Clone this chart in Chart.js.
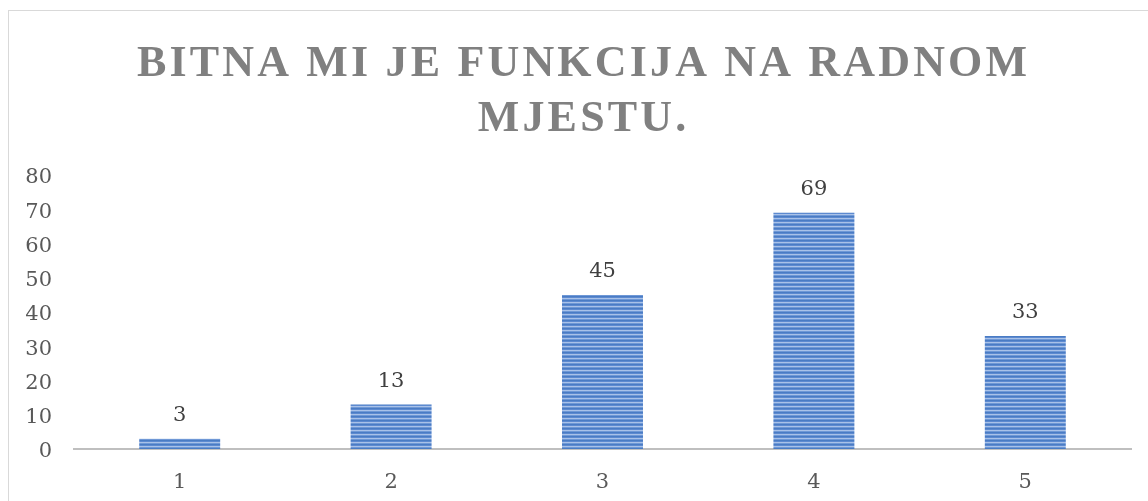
<!DOCTYPE html>
<html>
<head>
<meta charset="utf-8">
<script src="https://cdn.jsdelivr.net/npm/chart.js@4.4.1/dist/chart.umd.min.js"></script>
<style>
  html, body { margin: 0; padding: 0; background: #ffffff; overflow: hidden; }
  #frame { position: absolute; left: 8px; top: 10px; width: 1200px; height: 600px; border: 1px solid #d9d9d9; box-sizing: border-box; }
  #wrap { position: absolute; left: 0; top: 0; width: 1148px; height: 501px; }
</style>
</head>
<body>
<div id="frame"></div>
<div id="wrap"><canvas id="c"></canvas></div>
<script>
const titleLines = ['BITNA MI JE FUNKCIJA NA RADNOM', 'MJESTU.'];
const categories = ['1', '2', '3', '4', '5'];
const values = [3, 13, 45, 69, 33];
const yMin = 0, yMax = 80, yStep = 10;

const FONT = '"DejaVu Serif", "Liberation Serif", serif';
const TEXT = '#595959';

function stripePattern() {
  const c = document.createElement('canvas');
  c.width = 8; c.height = 4;
  const g = c.getContext('2d');
  const rows = ['#4a7cc4', '#5d8ad0', '#a9c2e8', '#6f98d6'];
  rows.forEach((col, i) => { g.fillStyle = col; g.fillRect(0, i, 8, 1); });
  return g.createPattern(c, 'repeat');
}

const titlePlugin = {
  id: 'spacedTitle',
  afterDraw(chart) {
    const ctx = chart.ctx;
    ctx.save();
    ctx.fillStyle = '#808080';
    ctx.textAlign = 'left';
    ctx.textBaseline = 'alphabetic';
    const target = 890;
    let size = 48;
    let w0;
    do {
      ctx.font = 'bold ' + size + 'px "Liberation Serif", serif';
      ctx.letterSpacing = '0px';
      w0 = ctx.measureText(titleLines[0]).width;
      if (w0 + 29 * 3 <= target) break;
      size -= 1;
    } while (size > 20);
    const n = titleLines[0].length;
    const sp = (target - w0) / (n - 1);
    ctx.letterSpacing = sp.toFixed(2) + 'px';
    const cx = 582;
    const baselines = [76, 131];
    titleLines.forEach((line, i) => {
      const w = ctx.measureText(line).width - sp;
      ctx.fillText(line, cx - w / 2, baselines[i]);
    });
    ctx.restore();
  }
};

const labelPlugin = {
  id: 'valueLabels',
  afterDatasetsDraw(chart) {
    const ctx = chart.ctx;
    const meta = chart.getDatasetMeta(0);
    ctx.save();
    ctx.font = '21px ' + FONT;
    ctx.fillStyle = '#404040';
    ctx.textAlign = 'center';
    ctx.textBaseline = 'middle';
    meta.data.forEach((bar, i) => {
      ctx.fillText(String(values[i]), bar.x, bar.y - 23);
    });
    ctx.restore();
  }
};

new Chart(document.getElementById('c'), {
  type: 'bar',
  data: {
    labels: categories,
    datasets: [{
      data: values,
      backgroundColor: stripePattern(),
      borderWidth: 0,
      barPercentage: 0.383,
      categoryPercentage: 1
    }]
  },
  options: {
    responsive: true,
    maintainAspectRatio: false,
    animation: false,
    layout: { padding: { left: 26, right: 17, top: 175, bottom: 0 } },
    plugins: {
      legend: { display: false },
      title: { display: false },
      tooltip: { enabled: false }
    },
    scales: {
      x: {
        grid: { display: false, drawTicks: false },
        border: { display: true, color: '#bfbfbf', width: 2 },
        ticks: { color: TEXT, font: { family: FONT, size: 21 }, padding: 21 },
        afterFit(s) { s.height = 52; }
      },
      y: {
        min: yMin, max: yMax,
        grid: { display: false, drawTicks: false },
        border: { display: false },
        ticks: { stepSize: yStep, color: TEXT, font: { family: FONT, size: 21 }, padding: 22, labelOffset: 3 },
        afterFit(s) { s.width = 48; }
      }
    }
  },
  plugins: [titlePlugin, labelPlugin]
});
</script>
</body>
</html>
